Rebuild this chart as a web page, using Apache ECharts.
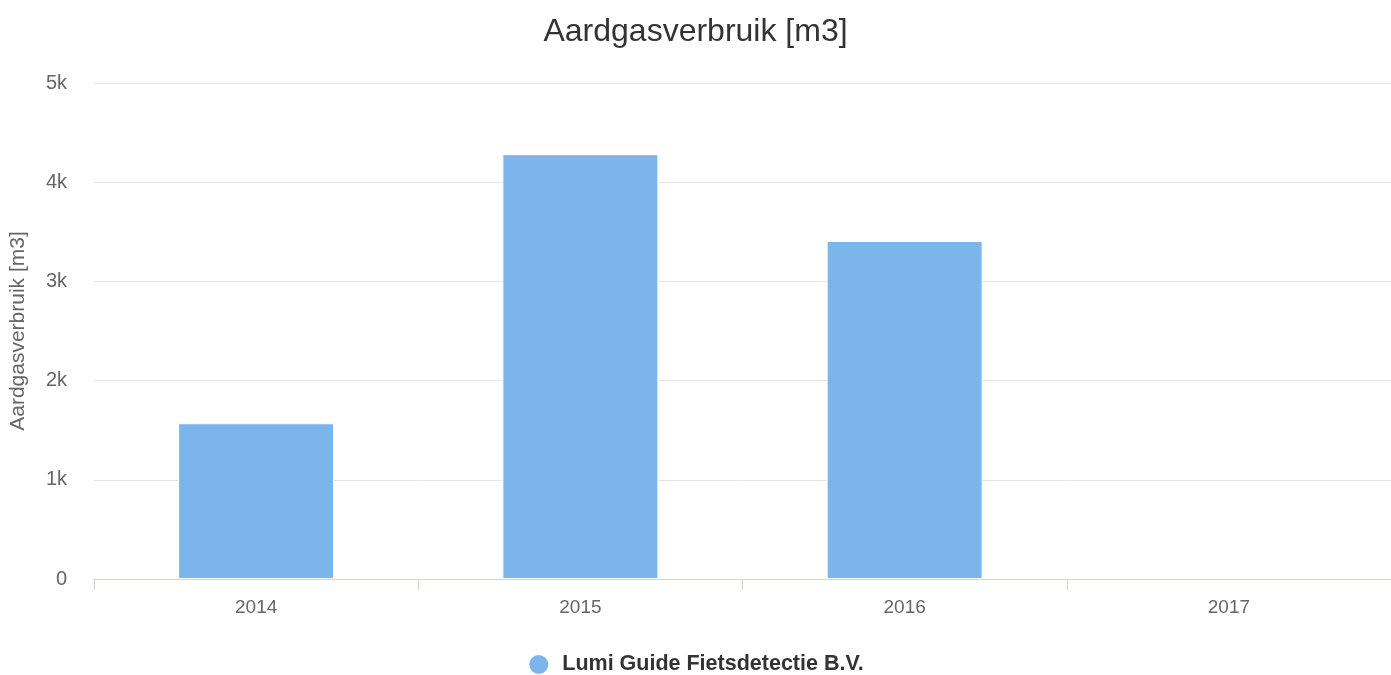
<!DOCTYPE html>
<html>
<head>
<meta charset="utf-8">
<script src="https://cdn.jsdelivr.net/npm/echarts@6/dist/echarts.min.js"></script>
<style>
  html, body { margin: 0; padding: 0; background: #fff; }
  #chart { width: 1391px; height: 675px; }
</style>
</head>
<body>
<div id="chart"></div>
<script>
const years = ["2014", "2015", "2016", "2017"];
const gasUsage = [1570, 4283, 3407, 0];
const seriesName = "Lumi Guide Fietsdetectie B.V.";

const font = "'Liberation Sans', Arial, sans-serif";
const chart = echarts.init(document.getElementById("chart"), null, { renderer: "canvas" });

chart.setOption({
    animation: false,
    textStyle: { fontFamily: font },
    title: {
        text: "Aardgasverbruik [m3]",
        left: "center",
        top: 11,
        textStyle: { color: "#333333", fontSize: 32, fontWeight: "normal", fontFamily: font }
    },
    legend: {
        top: 653,
        left: "center",
        icon: "circle",
        itemWidth: 21,
        itemHeight: 21,
        itemGap: 10,
        padding: 0,
        textStyle: {
            color: "#333333",
            fontSize: 21.5,
            fontWeight: "bold",
            fontFamily: font,
            padding: [0, 0, 0, 8]
        },
        data: [seriesName]
    },
    grid: { left: 94, right: 0, top: 83, bottom: 96, containLabel: false, outerBoundsMode: "none" },
    xAxis: {
        type: "category",
        data: years,
        axisLine: { lineStyle: { color: "#ccd6eb", width: 1 } },
        axisTick: { show: true, length: 11, lineStyle: { color: "#ccd6eb" } },
        axisLabel: { color: "#666666", fontSize: 19, margin: 19, fontFamily: font },
        splitLine: { show: false }
    },
    yAxis: {
        type: "value",
        min: 0,
        max: 5000,
        interval: 1000,
        name: "Aardgasverbruik [m3]",
        nameLocation: "middle",
        nameGap: 65,
        nameRotate: 90,
        nameTextStyle: { color: "#666666", fontSize: 21, fontFamily: font },
        axisLine: { show: false },
        axisTick: { show: false },
        axisLabel: {
            color: "#666666",
            fontSize: 20,
            margin: 27,
            fontFamily: font,
            formatter: v => (v === 0 ? "0" : v / 1000 + "k")
        },
        splitLine: { lineStyle: { color: "#e6e6e6", width: 1 } }
    },
    series: [
        {
            name: seriesName,
            type: "bar",
            data: gasUsage.map(v => (v === 0 ? { value: v, itemStyle: { borderWidth: 0 } } : v)),
            barWidth: 156,
            itemStyle: { color: "#7cb5ec", borderColor: "#ffffff", borderWidth: 1 }
        }
    ]
});
</script>
</body>
</html>
